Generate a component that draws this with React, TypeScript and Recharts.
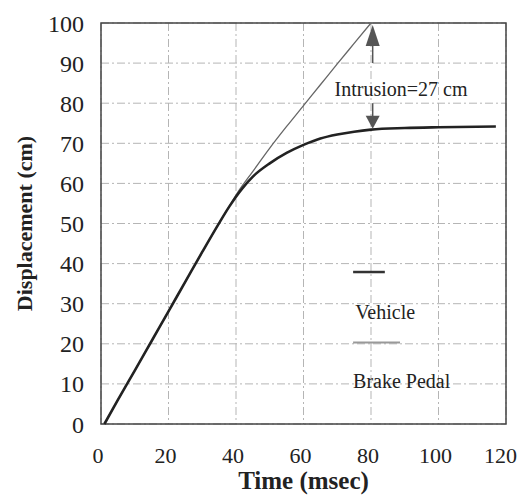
import React from "react";
import {
  LineChart,
  Line,
  XAxis,
  YAxis,
  CartesianGrid,
  ReferenceArea,
  ReferenceLine,
  ReferenceDot,
  Label,
} from "recharts";

// time (msec) vs displacement (cm)
const vehicle = [
  { t: 1, d: 0 },
  { t: 5, d: 6 },
  { t: 10, d: 13.3 },
  { t: 15, d: 20.7 },
  { t: 20, d: 28.1 },
  { t: 25, d: 35.5 },
  { t: 30, d: 42.9 },
  { t: 35, d: 50.1 },
  { t: 38, d: 54.2 },
  { t: 40, d: 56.7 },
  { t: 42, d: 58.9 },
  { t: 45, d: 61.7 },
  { t: 50, d: 65 },
  { t: 55, d: 67.6 },
  { t: 60, d: 69.6 },
  { t: 65, d: 71.2 },
  { t: 70, d: 72.2 },
  { t: 75, d: 72.9 },
  { t: 80, d: 73.4 },
  { t: 90, d: 73.8 },
  { t: 100, d: 74 },
  { t: 117, d: 74.2 },
];

const brakePedal = [
  { t: 1, d: 0 },
  { t: 5, d: 6 },
  { t: 10, d: 13.3 },
  { t: 15, d: 20.7 },
  { t: 20, d: 28.1 },
  { t: 25, d: 35.5 },
  { t: 30, d: 42.9 },
  { t: 35, d: 50.1 },
  { t: 38, d: 54.3 },
  { t: 40, d: 57.1 },
  { t: 45, d: 63 },
  { t: 50, d: 68.8 },
  { t: 55, d: 74.2 },
  { t: 60, d: 79.4 },
  { t: 65, d: 84.6 },
  { t: 70, d: 89.8 },
  { t: 75, d: 94.9 },
  { t: 80, d: 100 },
];

const xTicks = [0, 20, 40, 60, 80, 100, 120];
const yTicks = [0, 10, 20, 30, 40, 50, 60, 70, 80, 90, 100];

const serif = "'Liberation Serif', 'Times New Roman', serif";

const UpHead = (p: any) => (
  <path d={`M${p.cx},${p.cy} L${p.cx - 7},${p.cy + 21} L${p.cx + 7},${p.cy + 21} Z`} fill="#555" />
);
const DownHead = (p: any) => (
  <path d={`M${p.cx},${p.cy} L${p.cx - 7},${p.cy - 13} L${p.cx + 7},${p.cy - 13} Z`} fill="#555" />
);
const TextAt = (txt: string, size: number, anchor: string) => (p: any) => (
  <text x={p.cx} y={p.cy} dy="0.35em" textAnchor={anchor} fontFamily={serif} fontSize={size} fill="#222">
    {txt}
  </text>
);

export default function App() {
  return (
    <div style={{ position: "fixed", left: 0, top: 0, width: 520, height: 499, background: "#fff" }}>
      <LineChart width={520} height={499} margin={{ top: 23, right: 14, bottom: 0, left: 0 }}>
        <CartesianGrid stroke="#b5b5b5" strokeDasharray="8 3 2 3" />
        <XAxis
          type="number"
          dataKey="t"
          domain={[0, 120]}
          ticks={xTicks}
          axisLine={false}
          tickLine={false}
          tickMargin={17}
          height={75}
          tick={{ fill: "#222", fontSize: 22, fontFamily: serif, dx: -3 }}
        >
          <Label
            value="Time (msec)"
            position="insideBottom"
            offset={10}
            style={{ fill: "#222", fontSize: 25, fontWeight: 700, fontFamily: serif }}
          />
        </XAxis>
        <YAxis
          type="number"
          dataKey="d"
          domain={[0, 100]}
          ticks={yTicks}
          axisLine={false}
          tickLine={false}
          tickMargin={11}
          width={101}
          tick={{ fill: "#222", fontSize: 24, fontFamily: serif }}
        >
          <Label
            content={(props: any) => {
              const vb = props.viewBox;
              const cy = vb.y + vb.height / 2;
              return (
                <text
                  x={24}
                  y={cy}
                  transform={`rotate(-90, 24, ${cy})`}
                  textAnchor="middle"
                  dy="0.35em"
                  fontFamily={serif}
                  fontWeight={700}
                  fontSize={22}
                  fill="#222"
                >
                  Displacement (cm)
                </text>
              );
            }}
          />
        </YAxis>
        <ReferenceArea x1={0} x2={120} y1={0} y2={100} fill="none" stroke="#444" strokeWidth={1.5} />
        <Line
          data={brakePedal}
          dataKey="d"
          type="monotone"
          stroke="#666"
          strokeWidth={1.3}
          dot={false}
          isAnimationActive={false}
        />
        <Line
          data={vehicle}
          dataKey="d"
          type="monotone"
          stroke="#222"
          strokeWidth={2.6}
          dot={false}
          isAnimationActive={false}
        />
        {/* intrusion arrow */}
        <ReferenceLine segment={[{ x: 80.5, y: 95 }, { x: 80.5, y: 90 }]} stroke="#555" strokeWidth={1.5} />
        <ReferenceLine segment={[{ x: 80.5, y: 80 }, { x: 80.5, y: 76.5 }]} stroke="#555" strokeWidth={1.5} />
        <ReferenceDot x={80.5} y={99.5} r={0} shape={UpHead} />
        <ReferenceDot x={80.5} y={73.6} r={0} shape={DownHead} />
        <ReferenceDot x={88.9} y={83.6} r={0} shape={TextAt("Intrusion=27 cm", 20, "middle")} />
        {/* legend */}
        <ReferenceLine segment={[{ x: 74.7, y: 37.9 }, { x: 84.1, y: 37.9 }]} stroke="#333" strokeWidth={2.5} />
        <ReferenceDot x={75.3} y={27.9} r={0} shape={TextAt("Vehicle", 20, "start")} />
        <ReferenceLine segment={[{ x: 74.7, y: 20.3 }, { x: 88.6, y: 20.3 }]} stroke="#999" strokeWidth={2} />
        <ReferenceDot x={74.7} y={10.6} r={0} shape={TextAt("Brake Pedal", 20, "start")} />
      </LineChart>
    </div>
  );
}
